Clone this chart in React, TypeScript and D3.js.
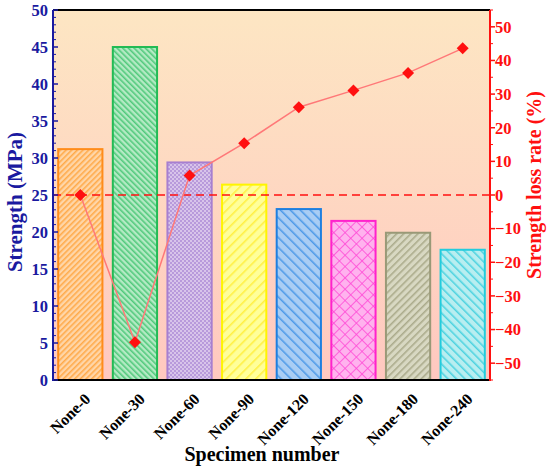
import React from "react";
import * as d3 from "d3";

const categories = ["None-0", "None-30", "None-60", "None-90", "None-120", "None-150", "None-180", "None-240"];
const strength = [31.2, 45.0, 29.4, 26.4, 23.1, 21.5, 19.9, 17.6];
const lossRate = [0, -43.8, 5.8, 15.4, 26.1, 31.1, 36.3, 43.6];
const leftTicks = [0, 5, 10, 15, 20, 25, 30, 35, 40, 45, 50];
const rightTicks = [-50, -40, -30, -20, -10, 0, 10, 20, 30, 40, 50];

const strokeColors = ["#FF8C1A", "#22BB55", "#A77FD0", "#FFF500", "#1E7FE0", "#FF22CC", "#999977", "#22CCDD"];
const fillColors = ["#FFD6A8", "#B4EAC4", "#D8C4EA", "#FFFF9A", "#A9CDF4", "#FFB2EE", "#D8D8C2", "#B8EEF0"];
const hatchColors = ["#FFA845", "#4CC878", "#B89ADB", "#FFF040", "#4A98E8", "#FF4AD6", "#A8A888", "#4AD2E0"];
// pattern type: slash, back, checker, cross
const patternTypes = ["slash", "back", "checker", "slash", "back", "cross", "slash", "back"];
const patternSpacing = [4, 4, 4, 7, 7, 8, 5, 6];

const M = { left: 53, right: 490, top: 10, bottom: 380 };
const BLUE = "#1a1aa0";
const RED = "#FF1010";
const FONT = "'Liberation Serif', 'Times New Roman', serif";

function Pattern({ i }: { i: number }) {
  const t = patternTypes[i];
  const s = patternSpacing[i];
  const id = `pat${i}`;
  if (t === "checker") {
    return (
      <pattern id={id} patternUnits="userSpaceOnUse" width={4} height={4}>
        <rect width={4} height={4} fill={fillColors[i]} />
        <rect width={2} height={2} fill={hatchColors[i]} />
        <rect x={2} y={2} width={2} height={2} fill={hatchColors[i]} />
      </pattern>
    );
  }
  if (t === "cross") {
    return (
      <pattern id={id} patternUnits="userSpaceOnUse" width={s} height={s} patternTransform="rotate(45)">
        <rect width={s} height={s} fill={fillColors[i]} />
        <line x1={0} y1={0} x2={0} y2={s} stroke={hatchColors[i]} strokeWidth={1.6} />
        <line x1={0} y1={0} x2={s} y2={0} stroke={hatchColors[i]} strokeWidth={1.6} />
      </pattern>
    );
  }
  const rot = t === "slash" ? 45 : -45;
  return (
    <pattern id={id} patternUnits="userSpaceOnUse" width={s} height={s} patternTransform={`rotate(${rot})`}>
      <rect width={s} height={s} fill={fillColors[i]} />
      <line x1={0.8} y1={0} x2={0.8} y2={s} stroke={hatchColors[i]} strokeWidth={1.5} />
    </pattern>
  );
}

export default function App() {
  const x = d3
    .scaleBand<string>()
    .domain(categories)
    .range([M.left, M.right])
    .paddingInner(0.19)
    .paddingOuter(0.095);
  const yL = d3.scaleLinear().domain([0, 50]).range([M.bottom, M.top]);
  const yR = d3.scaleLinear().domain([-55, 55]).range([M.bottom, M.top]);

  const line = d3
    .line<number>()
    .x((_, i) => (x(categories[i]) as number) + x.bandwidth() / 2)
    .y((d) => yR(d));

  const leftMinor = d3.range(0, 51, 1).filter((v) => v % 5 !== 0);
  const rightMinor = d3.range(-55, 56, 10);

  return (
    <svg width={550} height={470} style={{ position: "absolute", left: 0, top: 0, background: "#fff" }} fontFamily={FONT}>
      <defs>
        <linearGradient id="bg" x1="0" y1="0" x2="0" y2="1">
          <stop offset="0" stopColor="#FDE6C3" />
          <stop offset="1" stopColor="#FFC8C0" />
        </linearGradient>
        {categories.map((_, i) => (
          <Pattern key={i} i={i} />
        ))}
      </defs>
      <rect x={M.left} y={M.top} width={M.right - M.left} height={M.bottom - M.top} fill="url(#bg)" />

      {/* bars */}
      {categories.map((c, i) => (
        <rect
          key={c}
          x={x(c)}
          y={yL(strength[i])}
          width={x.bandwidth()}
          height={yL(0) - yL(strength[i])}
          fill={`url(#pat${i})`}
          stroke={strokeColors[i]}
          strokeWidth={2}
        />
      ))}

      {/* zero dashed line */}
      <line x1={M.left} x2={M.right} y1={yR(0)} y2={yR(0)} stroke={RED} strokeWidth={1.5} strokeDasharray="8,5" />

      {/* loss rate line */}
      <path d={line(lossRate) || ""} fill="none" stroke="#FF7878" strokeWidth={1.5} />
      {lossRate.map((v, i) => {
        const cx = (x(categories[i]) as number) + x.bandwidth() / 2;
        const cy = yR(v);
        const r = 6;
        return <path key={i} d={`M${cx},${cy - r}L${cx + r},${cy}L${cx},${cy + r}L${cx - r},${cy}Z`} fill={RED} />;
      })}

      {/* frame */}
      <line x1={M.left} x2={M.right} y1={M.top} y2={M.top} stroke="#000" strokeWidth={2} />
      <line x1={M.left} x2={M.right} y1={M.bottom} y2={M.bottom} stroke="#000" strokeWidth={2} />

      {/* left axis */}
      <line x1={M.left} x2={M.left} y1={M.top} y2={M.bottom + 1} stroke={BLUE} strokeWidth={2} />
      {leftTicks.map((t) => (
        <g key={t}>
          <line x1={M.left} x2={M.left + 5} y1={yL(t)} y2={yL(t)} stroke={BLUE} strokeWidth={1.5} />
          <text x={M.left - 5} y={yL(t)} dy="0.35em" textAnchor="end" fontSize={16.5} fontWeight="bold" fill={BLUE}>
            {t}
          </text>
        </g>
      ))}
      {leftMinor.map((t) => (
        <line key={t} x1={M.left} x2={M.left + 3} y1={yL(t)} y2={yL(t)} stroke={BLUE} strokeWidth={1} />
      ))}
      <text
        transform={`translate(22,${(M.top + M.bottom) / 2 + 7}) rotate(-90)`}
        textAnchor="middle"
        fontSize={21}
        fontWeight="bold"
        fill={BLUE}
      >
        Strength (MPa)
      </text>

      {/* right axis */}
      <line x1={M.right} x2={M.right} y1={M.top} y2={M.bottom + 1} stroke={RED} strokeWidth={2} />
      {rightTicks.map((t) => (
        <g key={t}>
          <line x1={M.right} x2={M.right + 5} y1={yR(t)} y2={yR(t)} stroke={RED} strokeWidth={1.5} />
          <text x={M.right + 5} y={yR(t)} dy="0.35em" textAnchor="start" fontSize={16.5} fontWeight="bold" fill={RED}>
            {t < 0 ? `\u2212${-t}` : t}
          </text>
        </g>
      ))}
      {rightMinor.map((t) => (
        <line key={t} x1={M.right} x2={M.right + 3} y1={yR(t)} y2={yR(t)} stroke={RED} strokeWidth={1} />
      ))}
      <text
        transform={`translate(541,${(M.top + M.bottom) / 2 - 10}) rotate(-90)`}
        textAnchor="middle"
        fontSize={20}
        fontWeight="bold"
        fill={RED}
      >
        Strength loss rate (%)
      </text>

      {/* x labels */}
      {categories.map((c) => {
        const cx = (x(c) as number) + x.bandwidth() / 2;
        return (
          <text
            key={c}
            transform={`translate(${cx + 11},${M.bottom + 20}) rotate(-45)`}
            textAnchor="end"
            fontSize={16}
            fontWeight="bold"
            fill="#000"
          >
            {c}
          </text>
        );
      })}
      <text x={262} y={461} textAnchor="middle" fontSize={20} fontWeight="bold" fill="#000">
        Specimen number
      </text>
    </svg>
  );
}
